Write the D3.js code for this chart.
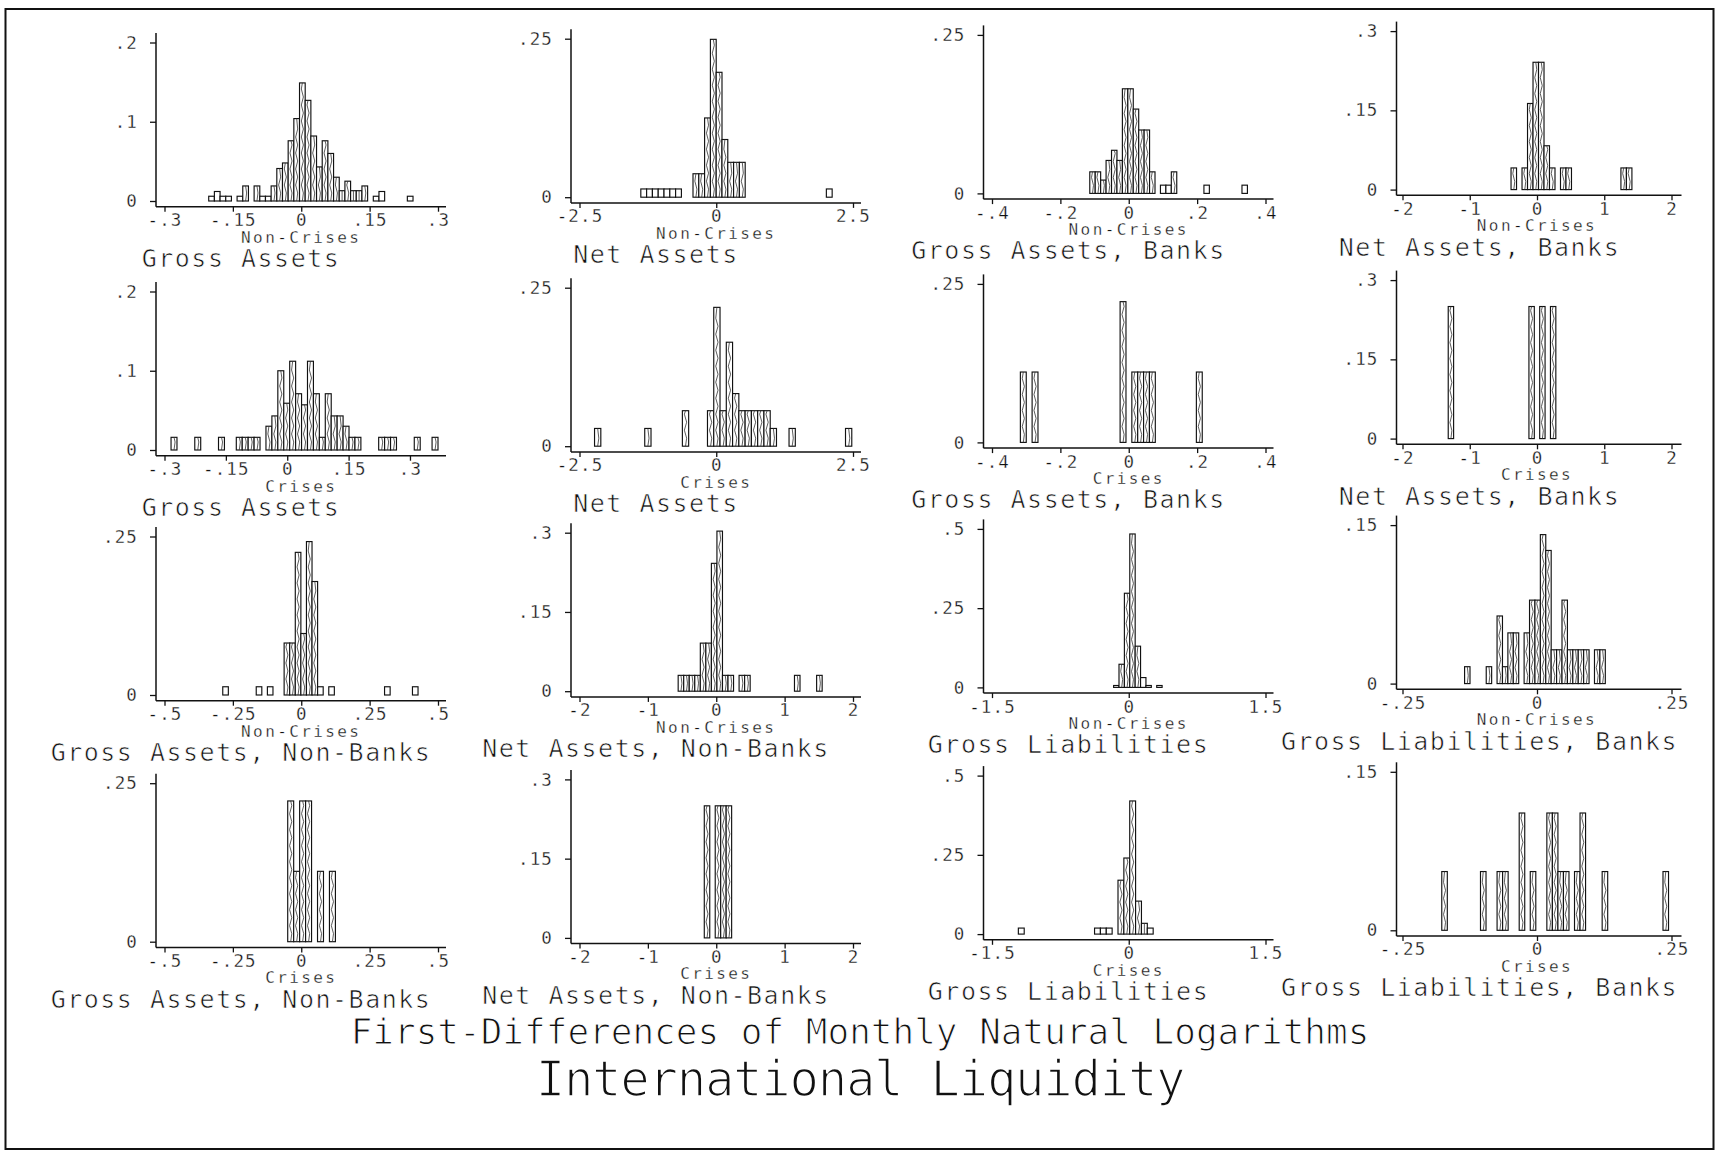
<!DOCTYPE html>
<html><head><meta charset="utf-8">
<script src="https://cdn.jsdelivr.net/npm/d3@7"></script>
<style>body{margin:0;background:#fff}</style>
</head><body><svg id="c" width="1719" height="1154"></svg>
<script>
// ---------------- DATA (fractions per bin; first bin edge + bin width) ----------------
// Row 1: Non-Crises
const gaNC_start = -0.203, gaNC_width = 0.01245;
const grossAssetsNC = [.006,.012,.006,.006,0,.006,.019,0,.019,.006,.006,.019,.041,.048,.076,.104,.149,.127,.082,.043,.076,.060,.030,.013,.025,.013,.013,.019,0,.006,.012,0,0,0,0,.006];
const naNC_start = -1.379, naNC_width = 0.106;
const netAssetsNC = [.013,.013,.013,.013,.013,.013,.013,0,0,.037,.037,.125,.249,.197,.091,.055,.055,.055,0,0,0,0,0,0,0,0,0,0,0,0,0,0,.013];
const gabNC_start = -0.114, gabNC_width = 0.0159;
const grossAssetsBanksNC = [.034,.034,.021,.052,.068,.052,.165,.165,.133,.100,.100,.034,0,.013,.013,.034,0,0,0,0,0,.013,0,0,0,0,0,0,.013];
const nabNC_start = -0.386, nabNC_width = 0.0817;
const netAssetsBanksNC = [.041,0,.041,.163,.241,.241,.083,.041,0,.041,.041,0,0,0,0,0,0,0,0,0,.041,.041];
// Row 2: Crises
const gaC_start = -0.284, gaC_width = 0.0145;
const grossAssetsC = [.016,0,0,0,.016,0,0,0,.016,0,0,.016,.016,.016,.016,0,.030,.043,.100,.059,.112,.071,.057,.112,.071,.016,.071,.043,.043,.030,.016,.016,0,0,0,.016,.016,.016,0,0,0,.016,0,0,.016];
const naC_start = -2.225, naC_width = 0.1147;
const netAssetsC = [.028,0,0,0,0,0,0,0,.028,0,0,0,0,0,.056,0,0,0,.056,.219,.056,.164,.083,.056,.056,.056,.056,.056,.028,0,0,.028,0,0,0,0,0,0,0,0,.028];
const gabC_start = -0.317, gabC_width = 0.01716;
const grossAssetsBanksC = [.111,0,.111,0,0,0,0,0,0,0,0,0,0,0,0,0,0,.222,0,.111,.111,.111,.111,0,0,0,0,0,0,0,.111];
const nabC_start = -1.32, nabC_width = 0.08;
const netAssetsBanksC = [.25,0,0,0,0,0,0,0,0,0,0,0,0,0,0,.25,0,.25,0,.25];
// Row 3: Non-Crises
const ganbNC_start = -0.287, ganbNC_width = 0.0204;
const grossAssetsNonBanksNC = [.013,0,0,0,0,0,.013,0,.013,0,0,.082,.082,.225,.097,.242,.179,.013,0,.013,0,0,0,0,0,0,0,0,0,.013,0,0,0,0,.013];
const nanbNC_start = -0.557, nanbNC_width = 0.081;
const netAssetsNonBanksNC = [.030,.030,.030,.030,.091,.091,.242,.303,.030,.030,0,.030,.030,0,0,0,0,0,0,0,0,.030,0,0,0,.030];
const glNC_start = -0.166, glNC_width = 0.0591;
const grossLiabilitiesNC = [.006,.073,.297,.484,.130,.031,.006,0,.006];
const glbNC_start = -0.1346, glbNC_width = 0.01006;
const grossLiabilitiesBanksNC = [.016,0,0,0,.016,0,.064,.016,.048,.048,0,.048,.079,.079,.141,.126,.032,.032,.079,.032,.032,.032,.032,0,.032,.032];
// Row 4: Crises
const ganbC_start = -0.0495, ganbC_width = 0.0218;
const grossAssetsNonBanksC = [.222,.111,.222,.222,0,.111,0,.111];
const nanbC_start = -0.175, nanbC_width = 0.08;
const netAssetsNonBanksC = [.25,0,.25,.25,.25];
const glC_start = -1.211, glC_width = 0.0643;
const grossLiabilitiesC = [.019,0,0,0,0,0,0,0,0,0,0,0,0,.019,.019,.019,0,.170,.240,.420,.104,.034,.019];
const glbC_start = -0.177, glbC_width = 0.01028;
const grossLiabilitiesBanksC = [.0556,0,0,0,0,0,0,.0556,0,0,.0556,.0556,0,0,.111,0,.0556,0,0,.111,.111,.0556,.0556,0,.0556,.111,0,0,0,.0556,0,0,0,0,0,0,0,0,0,0,.0556];

// tick values
const xtGross = [-.3,-.15,0,.15,.3];
const xtNet = [-2.5,0,2.5];
const xtGrossBanks = [-.4,-.2,0,.2,.4];
const xtNetBanks = [-2,-1,0,1,2];
const xtGrossNB = [-.5,-.25,0,.25,.5];
const xtNetNB = [-2,-1,0,1,2];
const xtGrossLiab = [-1.5,0,1.5];
const xtGrossLiabBanks = [-.25,0,.25];
const ytGross = [0,.1,.2], ytNet = [0,.25], ytGrossBanks = [0,.25], ytNetBanks = [0,.15,.3];
const ytGrossNB = [0,.25], ytNetNB = [0,.15,.3], ytGrossLiab = [0,.25,.5], ytGrossLiabBanks = [0,.15];

const titlesTop = ["Gross Assets","Net Assets","Gross Assets, Banks","Net Assets, Banks"];
const titlesBottom = ["Gross Assets, Non-Banks","Net Assets, Non-Banks","Gross Liabilities","Gross Liabilities, Banks"];
const mainTitle1 = "First-Differences of Monthly Natural Logarithms";
const mainTitle2 = "International Liquidity";

const panels = [
 {r:0,c:0,t:titlesTop[0],s:"Non-Crises",st:gaNC_start,w:gaNC_width,h:grossAssetsNC,xt:xtGross,yt:ytGross},
 {r:0,c:1,t:titlesTop[1],s:"Non-Crises",st:naNC_start,w:naNC_width,h:netAssetsNC,xt:xtNet,yt:ytNet},
 {r:0,c:2,t:titlesTop[2],s:"Non-Crises",st:gabNC_start,w:gabNC_width,h:grossAssetsBanksNC,xt:xtGrossBanks,yt:ytGrossBanks},
 {r:0,c:3,t:titlesTop[3],s:"Non-Crises",st:nabNC_start,w:nabNC_width,h:netAssetsBanksNC,xt:xtNetBanks,yt:ytNetBanks},
 {r:1,c:0,t:titlesTop[0],s:"Crises",st:gaC_start,w:gaC_width,h:grossAssetsC,xt:xtGross,yt:ytGross},
 {r:1,c:1,t:titlesTop[1],s:"Crises",st:naC_start,w:naC_width,h:netAssetsC,xt:xtNet,yt:ytNet},
 {r:1,c:2,t:titlesTop[2],s:"Crises",st:gabC_start,w:gabC_width,h:grossAssetsBanksC,xt:xtGrossBanks,yt:ytGrossBanks},
 {r:1,c:3,t:titlesTop[3],s:"Crises",st:nabC_start,w:nabC_width,h:netAssetsBanksC,xt:xtNetBanks,yt:ytNetBanks},
 {r:2,c:0,t:titlesBottom[0],s:"Non-Crises",st:ganbNC_start,w:ganbNC_width,h:grossAssetsNonBanksNC,xt:xtGrossNB,yt:ytGrossNB},
 {r:2,c:1,t:titlesBottom[1],s:"Non-Crises",st:nanbNC_start,w:nanbNC_width,h:netAssetsNonBanksNC,xt:xtNetNB,yt:ytNetNB},
 {r:2,c:2,t:titlesBottom[2],s:"Non-Crises",st:glNC_start,w:glNC_width,h:grossLiabilitiesNC,xt:xtGrossLiab,yt:ytGrossLiab},
 {r:2,c:3,t:titlesBottom[3],s:"Non-Crises",st:glbNC_start,w:glbNC_width,h:grossLiabilitiesBanksNC,xt:xtGrossLiabBanks,yt:ytGrossLiabBanks},
 {r:3,c:0,t:titlesBottom[0],s:"Crises",st:ganbC_start,w:ganbC_width,h:grossAssetsNonBanksC,xt:xtGrossNB,yt:ytGrossNB},
 {r:3,c:1,t:titlesBottom[1],s:"Crises",st:nanbC_start,w:nanbC_width,h:netAssetsNonBanksC,xt:xtNetNB,yt:ytNetNB},
 {r:3,c:2,t:titlesBottom[2],s:"Crises",st:glC_start,w:glC_width,h:grossLiabilitiesC,xt:xtGrossLiab,yt:ytGrossLiab},
 {r:3,c:3,t:titlesBottom[3],s:"Crises",st:glbC_start,w:glbC_width,h:grossLiabilitiesBanksC,xt:xtGrossLiabBanks,yt:ytGrossLiabBanks}
];

// ---------------- LAYOUT ----------------
const colX = [156, 571, 983.5, 1396.5];
const rowY = [201, 450, 695, 941.7];
const colSkew = -3.8;
const FONT = "'DejaVu Sans Mono', monospace";
const INK = "#111";

const fmt = v => { if (v === 0) return "0"; const a = Math.abs(v); let s = String(a); if (a < 1) s = s.replace(/^0/, ""); return (v < 0 ? "-" : "") + s; };

// thin "plotter" lettering: erode glyph edges with a white stroke painted over the fill
function thin(sel, sw) { return sel.attr("stroke", "#fff").attr("stroke-width", sw).attr("paint-order", "fill"); }

const svg = d3.select("#c");
svg.append("rect").attr("width",1719).attr("height",1154).attr("fill","#fff");
svg.append("rect").attr("x",5.5).attr("y",9).attr("width",1708).attr("height",1140)
   .attr("fill","none").attr("stroke",INK).attr("stroke-width",2);

panels.forEach(p => {
  const X0 = colX[p.c], Y0 = rowY[p.r] + colSkew * p.c;
  const g = svg.append("g").attr("transform", `translate(${X0},${Y0})`);
  const n = p.h.length;
  const dmin = Math.min(p.xt[0], p.st), dmax = Math.max(p.xt[p.xt.length-1], p.st + n * p.w);
  const rng = p.c === 3 ? [6, 275] : [8.5, 282];
  const x = d3.scaleLinear().domain([dmin, dmax]).range(rng);
  const yTop = p.yt[p.yt.length-1];
  const y = d3.scaleLinear().domain([0, yTop]).range([0, -158.5]);

  const bins = p.h.map((v, i) => ({x0: p.st + i * p.w, x1: p.st + (i + 1) * p.w, v})).filter(d => d.v > 0);

  // axis lines
  const axLen = p.c === 3 ? 285 : 290;
  const maxH = d3.max(p.h);
  g.append("line").attr("x1",0).attr("x2",axLen).attr("y1",5.7).attr("y2",5.7)
    .attr("stroke",INK).attr("stroke-width",1.5);
  g.append("line").attr("x1",0).attr("x2",0).attr("y1",5.7).attr("y2",Math.min(-168, y(maxH) - 6))
    .attr("stroke",INK).attr("stroke-width",1.5);

  // bars
  g.selectAll("rect.bar").data(bins).join("rect").attr("class","bar")
    .attr("x", d => x(d.x0)).attr("width", d => x(d.x1) - x(d.x0))
    .attr("y", d => y(d.v)).attr("height", d => y(0) - y(d.v))
    .attr("fill","#fff").attr("stroke",INK).attr("stroke-width",1.15);

  // hatch: wavy centre line inside each bar
  g.selectAll("path.hatch").data(bins).join("path").attr("class","hatch")
    .attr("d", d => {
      const xa = x(d.x0), xb = x(d.x1), w = xb - xa, cx = (xa + xb) / 2, top = y(d.v);
      if (-top < 10 || w < 3) return null;
      const a = Math.min(1.6, w * 0.18);
      let path = `M${cx},0`; let k = 0;
      for (let yy = -8; yy > top + 3; yy -= 8) { k++; path += `L${cx + (k % 2 ? a : -a)},${yy}`; }
      return path + `L${cx},${top}`;
    })
    .attr("fill","none").attr("stroke","#333").attr("stroke-width",0.8);

  // x axis ticks & labels
  const xa = g.append("g").attr("transform","translate(0,5.7)")
    .call(d3.axisBottom(x).tickValues(p.xt).tickFormat(fmt).tickSize(5).tickPadding(2));
  xa.select(".domain").remove();
  xa.attr("font-family", FONT).attr("font-size", 17.5).attr("letter-spacing", 1.1);
  xa.selectAll("line").attr("stroke", INK).attr("stroke-width", 1.3);
  thin(xa.selectAll("text").attr("fill", INK), 0.3);

  // y axis ticks & labels
  const ya = g.append("g").call(d3.axisLeft(y).tickValues(p.yt).tickFormat(fmt).tickSize(6).tickPadding(12));
  ya.select(".domain").remove();
  ya.attr("font-family", FONT).attr("font-size", 17.5).attr("letter-spacing", 1.1);
  ya.selectAll("line").attr("stroke", INK).attr("stroke-width", 1.3);
  thin(ya.selectAll("text").attr("fill", INK), 0.3);

  // sub label and title
  thin(g.append("text").attr("x", (rng[0] + rng[1]) / 2).attr("y", 41.5).attr("text-anchor","middle")
    .attr("font-family", FONT).attr("font-size", 16).attr("letter-spacing", 2.4).attr("fill", INK).text(p.s), 0.3);
  thin(g.append("text").attr("x", p.c === 3 ? 83 : 85).attr("y", 66).attr("text-anchor","middle")
    .attr("font-family", FONT).attr("font-size", 25).attr("letter-spacing", 1.5).attr("fill", INK).text(p.t), 0.65);
});

thin(svg.append("text").attr("x", 860).attr("y", 1044).attr("text-anchor","middle")
  .attr("font-family", FONT).attr("font-size", 36).attr("fill", INK).text(mainTitle1), 1.1);
thin(svg.append("text").attr("x", 860).attr("y", 1096).attr("text-anchor","middle")
  .attr("font-family", FONT).attr("font-size", 49).attr("letter-spacing", -1.3).attr("fill", INK).text(mainTitle2), 1.7);
</script>
</body></html>
